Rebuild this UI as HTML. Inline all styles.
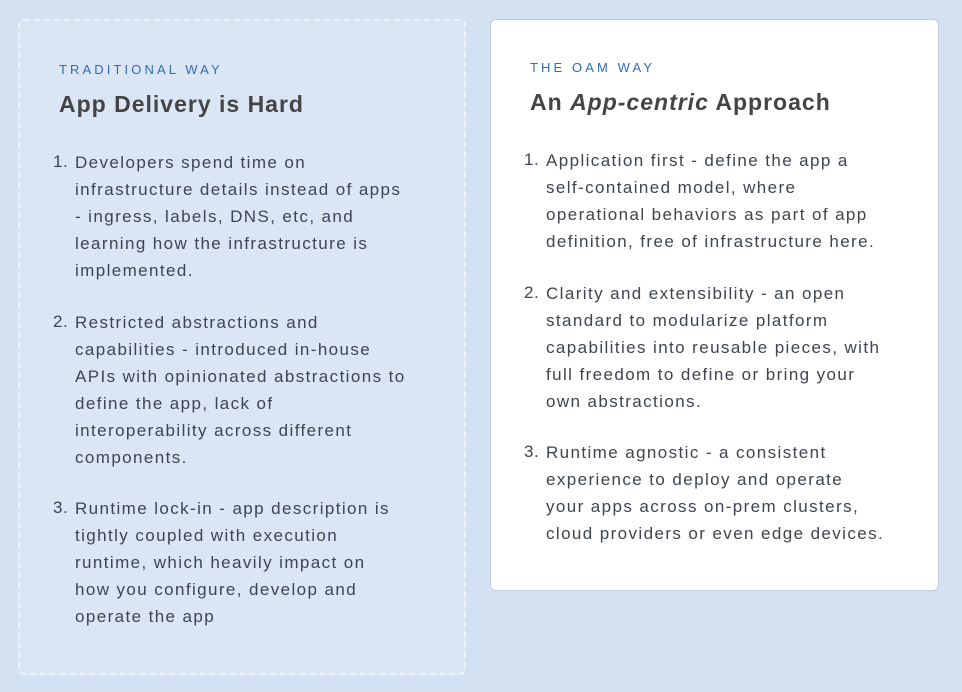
<!DOCTYPE html>
<html><head><style>
body{margin:0;width:962px;height:692px;background:#d3e1f3;font-family:"Liberation Sans",sans-serif;position:relative;overflow:hidden}
.box{position:absolute;box-sizing:border-box}
.l{left:18px;top:19px;width:448px;height:656px;border:2px dashed #eef3fb;border-radius:6px;background:#dbe6f5}
.r{left:490px;top:19px;width:449px;height:572px;background:#fff;border:1px solid #c2cfe0;border-radius:6px}
.lab{position:absolute;font-size:13px;letter-spacing:3.1px;color:#2f6db5}
.h{position:absolute;font-size:23px;font-weight:bold;color:#444;white-space:nowrap;letter-spacing:1px}
.t{position:absolute;font-size:17px;line-height:27px;color:#3e4450;white-space:nowrap;letter-spacing:1.4px}
.n{position:absolute;font-size:17px;color:#3e4450;letter-spacing:0.5px}
</style></head><body>
<div class="box l"></div>
<div class="box r"></div>

<div class="lab" style="left:59px;top:62px">TRADITIONAL WAY</div>
<div class="h" style="left:59px;top:91px">App Delivery is Hard</div>
<div class="n" style="left:53px;top:152px">1.</div>
<div class="t" style="left:75px;top:149px">Developers spend time on<br>infrastructure details instead of apps<br>- ingress, labels, DNS, etc, and<br>learning how the infrastructure is<br>implemented.</div>
<div class="n" style="left:53px;top:312px">2.</div>
<div class="t" style="left:75px;top:309px">Restricted abstractions and<br>capabilities - introduced in-house<br>APIs with opinionated abstractions to<br>define the app, lack of<br>interoperability across different<br>components.</div>
<div class="n" style="left:53px;top:498px">3.</div>
<div class="t" style="left:75px;top:495px">Runtime lock-in - app description is<br>tightly coupled with execution<br>runtime, which heavily impact on<br>how you configure, develop and<br>operate the app</div>

<div class="lab" style="left:530px;top:60px">THE OAM WAY</div>
<div class="h" style="left:530px;top:89px">An <i>App-centric</i> Approach</div>
<div class="n" style="left:524px;top:150px">1.</div>
<div class="t" style="left:546px;top:147px">Application first - define the app a<br>self-contained model, where<br>operational behaviors as part of app<br>definition, free of infrastructure here.</div>
<div class="n" style="left:524px;top:283px">2.</div>
<div class="t" style="left:546px;top:280px">Clarity and extensibility - an open<br>standard to modularize platform<br>capabilities into reusable pieces, with<br>full freedom to define or bring your<br>own abstractions.</div>
<div class="n" style="left:524px;top:442px">3.</div>
<div class="t" style="left:546px;top:439px">Runtime agnostic - a consistent<br>experience to deploy and operate<br>your apps across on-prem clusters,<br>cloud providers or even edge devices.</div>
</body></html>
